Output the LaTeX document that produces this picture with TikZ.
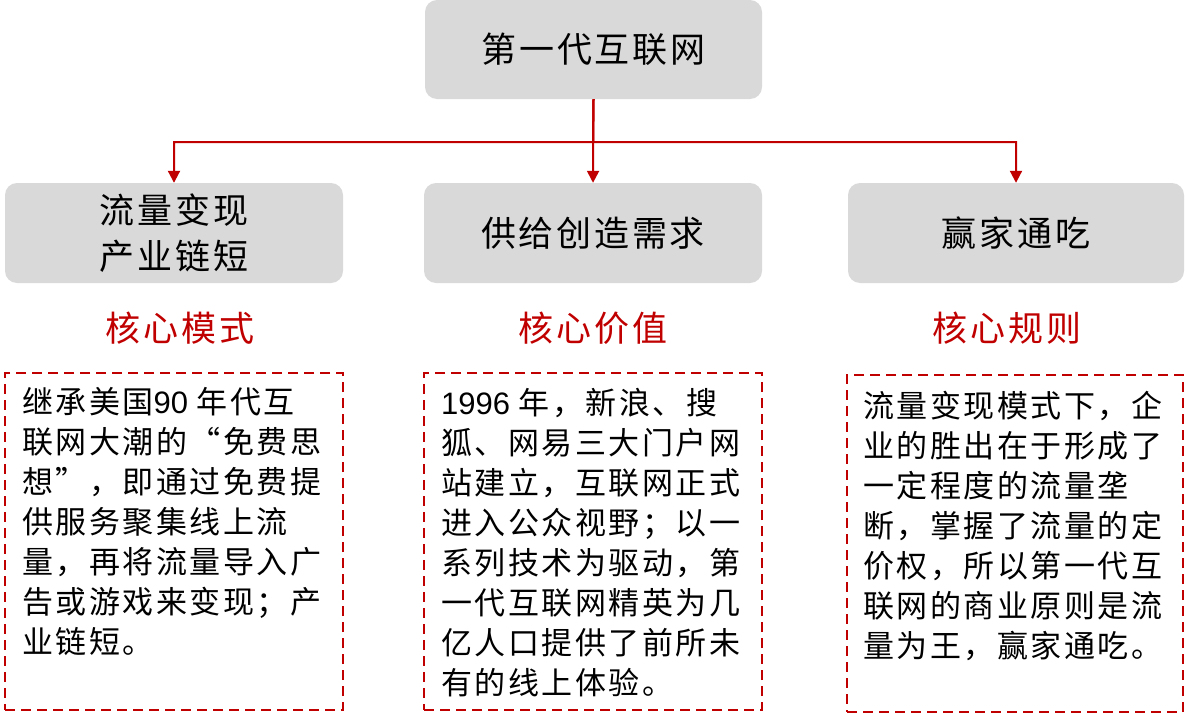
\documentclass[tikz,border=0pt]{standalone}
\usepackage{fontspec}
\usetikzlibrary{arrows.meta}
\newfontfamily\cjk{Noto Sans CJK SC}[LetterSpace=8]
\newfontfamily\lat{Liberation Sans}
\definecolor{boxgray}{HTML}{D9D9D9}
\definecolor{dred}{HTML}{C00000}
\tikzset{
  graybox/.style={draw=none, fill=boxgray, rounded corners=12pt, minimum width=338pt, minimum height=100pt, inner sep=0pt, align=center, font=\cjk\fontsize{35}{46}\selectfont},
  dashbox/.style={draw=dred, line width=2.3pt, dash pattern=on 10pt off 6pt, minimum width=338pt, minimum height=337pt, inner sep=0pt},
  redlabel/.style={text=dred, inner sep=0pt, font=\cjk\fontsize{35}{40}\selectfont},
  bodytext/.style={anchor=north west, align=left, inner sep=0pt, font=\cjk\fontsize{31}{40}\selectfont},
  conn/.style={draw=dred, line width=2pt, -{Triangle[width=12pt,length=12pt]}},
}
\begin{document}
\begin{tikzpicture}[x=1pt, y=-1pt]
\useasboundingbox (0,0) rectangle (1185,720);
% top
\node[graybox, minimum width=337pt, minimum height=99pt] (top) at (593.5,49.5) {第一代互联网};
\node[graybox] (left) at (174,233) {流量变现\\产业链短};
\node[graybox] (mid) at (593,233) {供给创造需求};
\node[graybox, minimum width=336pt] (right) at (1016,233) {赢家通吃};
\coordinate (bus) at (593,142);
\draw[conn] (top.south) -- (mid.north);
\draw[conn] (top.south) -- (bus) -| (left.north);
\draw[conn] (top.south) -- (bus) -| (right.north);
% labels
\node[redlabel] (lab1) at (180,328) {核心模式};
\node[redlabel] (lab2) at (593,328) {核心价值};
\node[redlabel] (lab3) at (1007,328) {核心规则};
% dashed boxes
\node[dashbox] (d1) at (174,541.5) {};
\node[dashbox] (d2) at (593,541.5) {};
\node[dashbox, minimum width=336pt] (d3) at (1015,543.5) {};
% texts
\node[bodytext] (t1) at (22,387) {继承美国{\lat 90 }年代互\\联网大潮的“免费思\\想”，即通过免费提\\供服务聚集线上流\\量，再将流量导入广\\告或游戏来变现；产\\业链短。};
\node[bodytext] (t2) at (441,388) {{\lat 1996 }年，新浪、搜\\狐、网易三大门户网\\站建立，互联网正式\\进入公众视野；以一\\系列技术为驱动，第\\一代互联网精英为几\\亿人口提供了前所未\\有的线上体验。};
\node[bodytext] (t3) at (863,391) {流量变现模式下，企\\业的胜出在于形成了\\一定程度的流量垄\\断，掌握了流量的定\\价权，所以第一代互\\联网的商业原则是流\\量为王，赢家通吃。};
\end{tikzpicture}
\end{document}
